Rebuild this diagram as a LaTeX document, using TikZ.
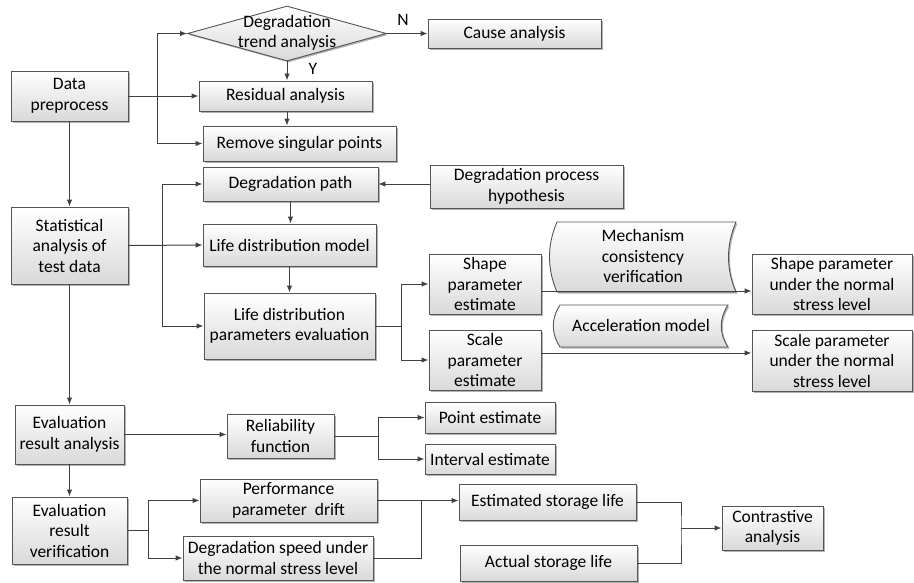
\documentclass[tikz,border=0pt]{standalone}
\usepackage{fontspec}
\setmainfont{Carlito}
\usetikzlibrary{shapes.geometric,shadows,arrows.meta}
\definecolor{boxline}{HTML}{555555}
\definecolor{lncol}{HTML}{404040}
\definecolor{boxbot}{HTML}{D9D9D9}
\newcommand\mainfs{\fontsize{17.5}{20.5}\selectfont}
\newcommand\bx[6]{%
 \pgfmathsetmacro\bxw{#4-#2}\pgfmathsetmacro\bxh{#5-#3}%
 \pgfmathsetmacro\bxcx{(#2+#4)/2}\pgfmathsetmacro\bxcy{(#3+#5)/2}%
 \node[box, minimum width=\bxw pt, minimum height=\bxh pt] (#1) at (\bxcx,\bxcy) {#6};}
\tikzset{
 fillshade/.style={draw=boxline, line width=0.9pt, top color=white, bottom color=boxbot,
   drop shadow={shadow xshift=1.5pt, shadow yshift=-1.5pt, fill=black, opacity=0.3}},
 box/.style={fillshade, rectangle, align=center, inner sep=2pt},
 arr/.style={draw=lncol, line width=1pt, -{Latex[length=7pt,width=5.5pt]}},
 ln/.style={draw=lncol, line width=1pt},
 lbl/.style={align=center, inner sep=0pt},
}
\begin{document}
\begin{tikzpicture}[x=1pt, y=-1pt, font=\mainfs]
\useasboundingbox (0,0) rectangle (914,582);
% diamond
\node[diamond, fillshade, minimum width=199pt, minimum height=55pt, inner sep=0pt] (dia) at (287,33.5) {};
\node[lbl] (diat) at (287,33) {Degradation\\trend analysis};
% boxes
\bx{dp}{11}{71}{128}{121}{Data\\preprocess}
\bx{cause}{428}{19}{601}{48}{Cause analysis}
\bx{res}{199}{81}{372}{111}{Residual analysis}
\bx{rem}{203}{126}{396}{161}{Remove singular points}
\bx{dpath}{203}{167}{378}{201}{Degradation path}
\bx{stat}{11}{207}{128}{284}{Statistical\\analysis of\\test data}
\bx{ldm}{203}{224}{376}{266}{Life distribution model}
\bx{ldpe}{204}{293}{375}{359}{Life distribution\\parameters evaluation}
\bx{dph}{430}{165}{623}{208}{Degradation process\\hypothesis}
\bx{shest}{429}{254}{541}{314}{Shape\\parameter\\estimate}
\bx{scest}{429}{330}{541}{390}{Scale\\parameter\\estimate}
\bx{shn}{752}{254}{912}{314}{Shape parameter\\under the normal\\stress level}
\bx{scn}{752}{330}{912}{391}{Scale parameter\\under the normal\\stress level}
\bx{evala}{15}{405}{124}{464}{Evaluation\\result analysis}
\bx{rel}{227}{414}{334}{458}{Reliability\\function}
\bx{pt}{425}{402}{555}{433}{Point estimate}
\bx{iv}{425}{444}{555}{474}{Interval estimate}
\bx{evalv}{12}{497}{127}{564}{Evaluation\\result\\verification}
\bx{perf}{200}{479}{377}{522}{Performance\\parameter\ \ drift}
\bx{dspd}{183}{536}{373}{580}{Degradation speed under\\the normal stress level}
\bx{est}{459}{484}{636}{520}{Estimated storage life}
\bx{act}{460}{545}{637}{581}{Actual storage life}
\bx{con}{722}{506}{823}{550}{Contrastive\\analysis}
% stored-data shapes
\path[fillshade] (557,222) -- (736,222) .. controls (726,245) and (726,269) .. (736,292)
  -- (557,292) .. controls (547,269) and (547,245) .. (557,222) -- cycle;
\node[lbl] (mech) at (643,256) {Mechanism\\consistency\\verification};
\path[fillshade] (560,305) -- (728,305) .. controls (719,319) and (719,333) .. (728,347)
  -- (560,347) .. controls (551,333) and (551,319) .. (560,305) -- cycle;
\node[lbl] (acc) at (641,325) {Acceleration model};
% labels
\node[lbl] (nlab) at (403,20) {N};
\node[lbl] (ylab) at (313,69) {Y};
% connectors
\coordinate (b1) at (157,96);
\draw[arr] (dp.east) -- (res.west);
\draw[arr] (b1) |- (dia.west);
\draw[arr] (b1) |- (rem.west);
\draw[arr] (dia.east) -- (cause.west);
\draw[arr] (dia.south) -- (dia.south |- res.north);
\draw[arr] (dia.south |- res.south) -- (dia.south |- rem.north);
\draw[arr] (dp.south) -- (stat.north);
\coordinate (b2) at (162,246);
\draw[arr] (stat.east) -- (ldm.west);
\draw[arr] (b2) |- (dpath.west);
\draw[arr] (b2) |- (ldpe.west);
\draw[arr] (dpath.south) -- (dpath.south |- ldm.north);
\draw[arr] (ldm.south) -- (ldpe.north);
\draw[arr] (dph.west |- dpath.east) -- (dpath.east);
\coordinate (b3) at (401,326);
\draw[ln] (ldpe.east) -- (b3);
\draw[arr] (b3) |- (shest.west);
\draw[arr] (b3) |- (scest.west);
\coordinate (y1) at (0,291);
\coordinate (y2) at (0,353);
\draw[arr] (shest.east |- y1) -- (shn.west |- y1);
\draw[arr] (scest.east |- y2) -- (scn.west |- y2);
\draw[arr] (stat.south) -- (evala.north);
\draw[arr] (evala.east) -- (rel.west |- evala.east);
\coordinate (b4) at (378,436);
\draw[ln] (rel.east) -- (b4);
\draw[arr] (b4) |- (pt.west);
\draw[arr] (b4) |- (iv.west);
\draw[arr] (evala.south) -- (evalv.north);
\coordinate (b5) at (148,530.5);
\draw[ln] (evalv.east) -- (b5);
\draw[arr] (b5) |- (perf.west);
\draw[arr] (b5) |- (dspd.west);
\coordinate (b6) at (421,500.5);
\draw[arr] (perf.east) -- (est.west |- perf.east);
\draw[ln] (dspd.east) -| (b6);
\coordinate (b7) at (681,528);
\draw[ln] (est.east) -| (b7) |- (act.east);
\draw[arr] (b7) -- (con.west);
\end{tikzpicture}
\end{document}
